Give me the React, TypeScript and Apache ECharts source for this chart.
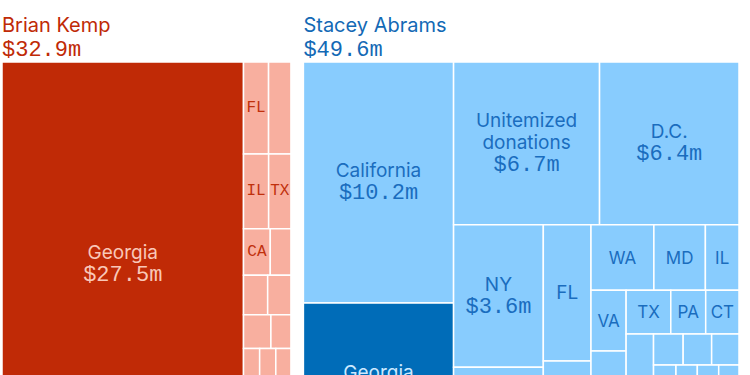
import { useEffect, useRef } from 'react';
import * as echarts from 'echarts';

// ---------- data ----------
const CANDIDATES = ['Brian Kemp', 'Stacey Abrams'];

const KEMP_NAMES = [
  'Georgia', 'FL', 'Unitemized donations', 'IL', 'TX', 'CA', 'NY', 'SC', 'AL', 'NC', 'TN', 'VA',
  'MS', 'LA', 'OH', 'DC', 'NJ', 'AZ', 'KY', 'MD', 'MO', 'IN', 'MI', 'CO',
];
const KEMP_VALUES = [
  27.5, 0.65, 0.58, 0.53, 0.47, 0.35, 0.27, 0.27, 0.26, 0.26, 0.19, 0.16,
  0.16, 0.15, 0.14, 0.13, 0.13, 0.12, 0.12, 0.11, 0.10, 0.09, 0.09, 0.07,
];
// nesting of the cells (slice / dice alternates with depth)
const KEMP_TREE = [0, [[1, 2], [3, 4], [5, 6], [7, 8], [9, 10], [11, 12, 13], [14, 15, 16], [17, 18, 19], [20, 21, 22, 23]]];
const KEMP_LABELED = ['Georgia', 'FL', 'IL', 'TX', 'CA'];

const ABRAMS_NAMES = [
  'California', 'Georgia', 'Unitemized donations', 'D.C.', 'NY', 'MA', 'FL', 'NJ', 'WA', 'MD',
  'IL', 'VA', 'NC', 'OH', 'TX', 'PA', 'CT', 'MI', 'MN', 'OR', 'CO', 'TN', 'SC', 'AZ', 'MO', 'WI',
  'LA', 'NM', 'KY', 'AL', 'NV', 'RI', 'UT', 'VT', 'ME', 'NH', 'HI', 'DE', 'Other',
];
const ABRAMS_VALUES = [
  10.2, 6.9, 6.7, 6.4, 3.6, 2.5, 1.83, 1.41, 1.16, 0.95,
  0.62, 0.60, 0.58, 0.56, 0.55, 0.43, 0.41, 0.35, 0.34, 0.33, 0.26, 0.25, 0.24, 0.21, 0.20, 0.20,
  0.19, 0.18, 0.17, 0.16, 0.15, 0.15, 0.14, 0.13, 0.12, 0.12, 0.11, 0.10, 0.10,
];
const ABRAMS_TAIL = [[20, 21, 22], [23, 24, 25, 26], [27, 28, 29, 30, 31], [32, 33, 34, 35, 36, 37, 38]];
const ABRAMS_TREE = [[0, 1], [[2, 3], [[4, 5], [6, 7], [[8, 9, 10], [[11, 12, 13], [[14, 15, 16], [[17, 18, 19], ABRAMS_TAIL]]]]]]];
const ABRAMS_LABELED = ['California', 'Georgia', 'Unitemized donations', 'D.C.', 'NY', 'FL', 'WA', 'MD', 'IL', 'VA', 'TX', 'PA', 'CT'];

const HOME_STATE = 'Georgia';
const VALUE_LABEL_MIN = 3;

// ---------- styles ----------
const SANS = 'Inter, "Liberation Sans", sans-serif';
const MONO = '"Liberation Mono", "DejaVu Sans Mono", monospace';
const GAP = 1.42;

const THEMES = [
  { fill: '#F8AF9F', dark: '#C02A06', text: '#C0300C', darkText: '#F9C7B8', title: '#C02A06', smallMono: true },
  { fill: '#88CCFE', dark: '#006CB8', text: '#1A6DBE', darkText: '#CDE9FF', title: '#1369B5', smallMono: false },
];

type Tree = number | Tree[];

function sumTree(node: Tree, values: number[]): number {
  if (typeof node === 'number') return values[node];
  return node.reduce((s: number, c: Tree) => s + sumTree(c, values), 0);
}

function sliceDice(node: Tree, values: number[], x0: number, y0: number, x1: number, y1: number, depth: number, out: number[][]) {
  if (typeof node === 'number') {
    out[node] = [x0, y0, x1, y1];
    return;
  }
  const total = sumTree(node, values);
  let pos = depth % 2 === 0 ? x0 : y0;
  for (const child of node) {
    const v = sumTree(child, values);
    if (depth % 2 === 0) {
      const nx = pos + ((x1 - x0) * v) / total;
      sliceDice(child, values, pos, y0, nx, y1, depth + 1, out);
      pos = nx;
    } else {
      const ny = pos + ((y1 - y0) * v) / total;
      sliceDice(child, values, x0, pos, x1, ny, depth + 1, out);
      pos = ny;
    }
  }
}

const fmt = (v: number) => '$' + v.toFixed(1) + 'm';

let measureCtx: CanvasRenderingContext2D | null = null;
function textWidth(s: string, font: string) {
  if (!measureCtx) measureCtx = document.createElement('canvas').getContext('2d');
  if (!measureCtx) return s.length * 10;
  measureCtx.font = font;
  return measureCtx.measureText(s).width;
}

export default function App() {
  const ref = useRef<HTMLDivElement>(null);

  useEffect(() => {
    if (!ref.current) return;
    const chart = echarts.init(ref.current, undefined, { renderer: 'svg' });

    const sets = [
      { names: KEMP_NAMES, values: KEMP_VALUES, tree: KEMP_TREE as Tree, labeled: KEMP_LABELED },
      { names: ABRAMS_NAMES, values: ABRAMS_VALUES, tree: ABRAMS_TREE as Tree, labeled: ABRAMS_LABELED },
    ];
    const totals = sets.map((s) => s.values.reduce((a, b) => a + b, 0));
    const xMax = totals[0] + GAP + totals[1];

    const gridLeft = 2;
    const gridWidth = 737;
    const gridTop = 62;
    const gridHeight = 404;

    const series = sets.map((set, si) => {
      const offset = si === 0 ? 0 : totals[0] + GAP;
      const rects: number[][] = [];
      sliceDice(set.tree, set.values, offset, 0, offset + totals[si], 1, 0, rects);
      const theme = THEMES[si];
      return {
        type: 'custom',
        name: CANDIDATES[si],
        coordinateSystem: 'cartesian2d',
        encode: { x: [0, 2], y: [1, 3] },
        data: rects.map((r, i) => ({ name: set.names[i], value: [...r, set.values[i]] })),
        renderItem: (params: any, api: any) => {
          const i = params.dataIndex;
          const p0 = api.coord([api.value(0), api.value(1)]);
          const p1 = api.coord([api.value(2), api.value(3)]);
          const x = Math.min(p0[0], p1[0]);
          const y = Math.min(p0[1], p1[1]);
          const w = Math.abs(p1[0] - p0[0]);
          const h = Math.abs(p1[1] - p0[1]);
          const name = set.names[i];
          const value = set.values[i];
          const isHome = name === HOME_STATE;
          const fill = isHome ? theme.dark : theme.fill;
          const textColor = isHome ? theme.darkText : theme.text;
          const el: any = {
            type: 'rect',
            shape: { x, y, width: w, height: h },
            style: { fill, stroke: '#ffffff', lineWidth: 1.5 },
          };
          if (set.labeled.includes(name)) {
            const big = value >= VALUE_LABEL_MIN;
            let nameFont = SANS;
            let nameSize = value >= 1.5 ? 19 : 17;
            if (!big && theme.smallMono) {
              nameFont = MONO;
              nameSize = 16;
            }
            let lines = [name];
            if (textWidth(name, `${nameSize}px ${nameFont}`) > w - 8) lines = name.split(' ');
            let text = lines.map((l) => `{n|${l}}`).join('\n');
            if (big) text += `\n{v|${fmt(value)}}`;
            el.textContent = {
              style: {
                text,
                align: 'center',
                verticalAlign: 'middle',
                rich: {
                  n: { fontFamily: nameFont, fontSize: nameSize, lineHeight: 22, fill: textColor },
                  v: { fontFamily: MONO, fontSize: 22, lineHeight: 24, fill: textColor },
                },
              },
            };
            el.textConfig = { position: 'inside' };
          }
          return el;
        },
      };
    });

    const pxPerUnit = gridWidth / xMax;
    const titleLefts = [gridLeft, gridLeft + (totals[0] + GAP) * pxPerUnit];

    chart.setOption({
      animation: false,
      title: sets.map((_, si) => ({
        text: CANDIDATES[si],
        subtext: fmt(totals[si]),
        left: titleLefts[si],
        top: 13,
        padding: 0,
        itemGap: 1,
        textStyle: { fontFamily: SANS, fontSize: 20, fontWeight: 'normal', color: THEMES[si].title, lineHeight: 24 },
        subtextStyle: { fontFamily: MONO, fontSize: 22, color: THEMES[si].title, lineHeight: 24 },
      })),
      grid: { left: gridLeft, top: gridTop, width: gridWidth, height: gridHeight, containLabel: false },
      xAxis: { type: 'value', min: 0, max: xMax, show: false },
      yAxis: { type: 'value', min: 0, max: 1, inverse: true, show: false },
      tooltip: { show: false },
      series,
    });

    return () => chart.dispose();
  }, []);

  return (
    <div style={{ position: 'absolute', left: 0, top: 0, width: 750, height: 375, overflow: 'hidden', background: '#fff' }}>
      <div ref={ref} style={{ width: 750, height: 480 }} />
    </div>
  );
}
